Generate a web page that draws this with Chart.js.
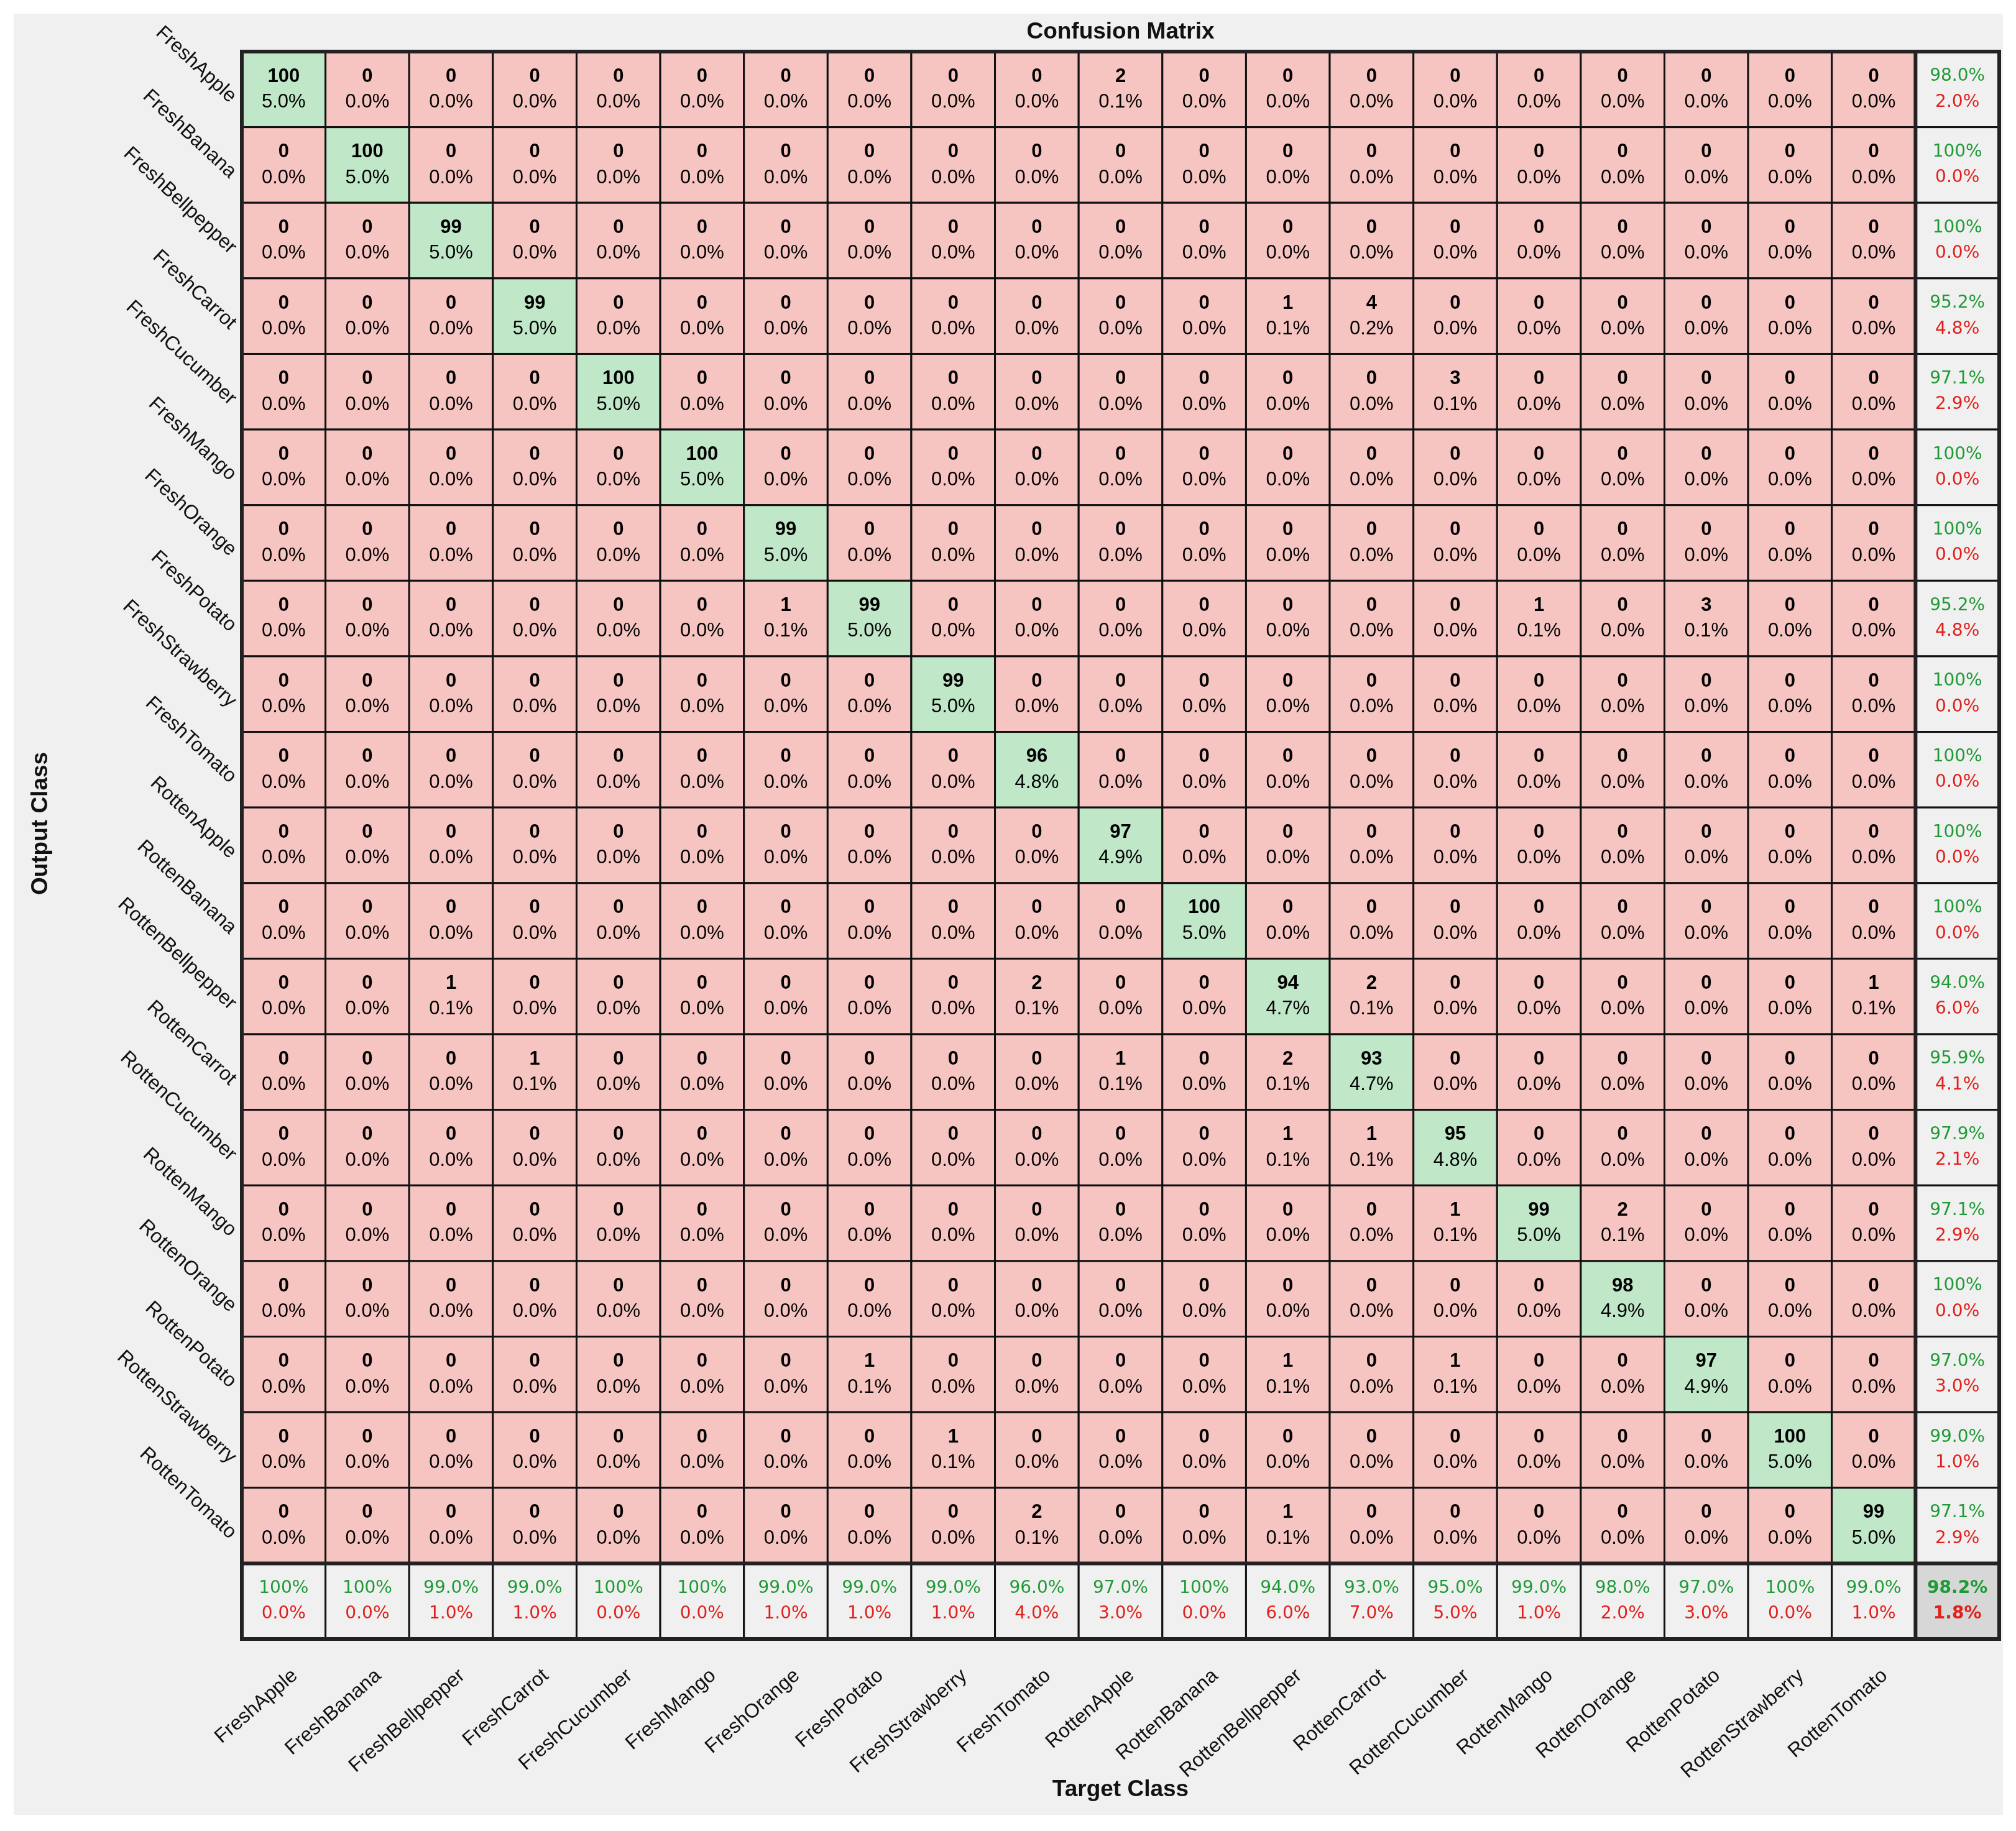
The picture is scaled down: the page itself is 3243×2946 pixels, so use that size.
<!DOCTYPE html>
<html>
<head>
<meta charset="utf-8">
<script src="https://cdn.jsdelivr.net/npm/chart.js@4/dist/chart.umd.min.js"></script>
<style>
  html, body { margin: 0; padding: 0; background: #fff; }
  #wrap { position: relative; width: 3243px; height: 2946px; }
</style>
</head>
<body>
<div id="wrap"><canvas id="cm"></canvas></div>
<script>
const classes = ['FreshApple','FreshBanana','FreshBellpepper','FreshCarrot','FreshCucumber','FreshMango',
  'FreshOrange','FreshPotato','FreshStrawberry','FreshTomato','RottenApple','RottenBanana',
  'RottenBellpepper','RottenCarrot','RottenCucumber','RottenMango','RottenOrange','RottenPotato',
  'RottenStrawberry','RottenTomato'];

// rows = output class, columns = target class
const counts = [
  [100,0,0,0,0,0,0,0,0,0,2,0,0,0,0,0,0,0,0,0],
  [0,100,0,0,0,0,0,0,0,0,0,0,0,0,0,0,0,0,0,0],
  [0,0,99,0,0,0,0,0,0,0,0,0,0,0,0,0,0,0,0,0],
  [0,0,0,99,0,0,0,0,0,0,0,0,1,4,0,0,0,0,0,0],
  [0,0,0,0,100,0,0,0,0,0,0,0,0,0,3,0,0,0,0,0],
  [0,0,0,0,0,100,0,0,0,0,0,0,0,0,0,0,0,0,0,0],
  [0,0,0,0,0,0,99,0,0,0,0,0,0,0,0,0,0,0,0,0],
  [0,0,0,0,0,0,1,99,0,0,0,0,0,0,0,1,0,3,0,0],
  [0,0,0,0,0,0,0,0,99,0,0,0,0,0,0,0,0,0,0,0],
  [0,0,0,0,0,0,0,0,0,96,0,0,0,0,0,0,0,0,0,0],
  [0,0,0,0,0,0,0,0,0,0,97,0,0,0,0,0,0,0,0,0],
  [0,0,0,0,0,0,0,0,0,0,0,100,0,0,0,0,0,0,0,0],
  [0,0,1,0,0,0,0,0,0,2,0,0,94,2,0,0,0,0,0,1],
  [0,0,0,1,0,0,0,0,0,0,1,0,2,93,0,0,0,0,0,0],
  [0,0,0,0,0,0,0,0,0,0,0,0,1,1,95,0,0,0,0,0],
  [0,0,0,0,0,0,0,0,0,0,0,0,0,0,1,99,2,0,0,0],
  [0,0,0,0,0,0,0,0,0,0,0,0,0,0,0,0,98,0,0,0],
  [0,0,0,0,0,0,0,1,0,0,0,0,1,0,1,0,0,97,0,0],
  [0,0,0,0,0,0,0,0,1,0,0,0,0,0,0,0,0,0,100,0],
  [0,0,0,0,0,0,0,0,0,2,0,0,1,0,0,0,0,0,0,99]
];

const n = classes.length;
const total = counts.flat().reduce((a, b) => a + b, 0);

function cellPct(num) {
  return (num / total * 100).toFixed(1) + '%';
}
function pct(num, den) {
  const v = Math.round(1000 * num / den) / 10;
  return v === 100 ? '100%' : v.toFixed(1) + '%';
}
function pctRest(num, den) {
  const v = 100 - Math.round(1000 * num / den) / 10;
  return v === 100 ? '100%' : v.toFixed(1) + '%';
}

// one point per cell, including the summary row/column (index n)
const cells = [];
for (let r = 0; r <= n; r++) {
  for (let c = 0; c <= n; c++) cells.push({ x: c, y: r });
}

const FONT = '"Liberation Sans", Arial, sans-serif';
const WIDE = '"DejaVu Sans", sans-serif';
const GREEN = '#bfe7c8', RED = '#f7c5c1', GREY = '#f0f0f0', CORNER = '#d7d7d7';
const TXT_GREEN = '#1f9a35', TXT_RED = '#e0201c';

const matrixPlugin = {
  id: 'matrix',
  beforeDraw(chart) {
    const ctx = chart.ctx;
    ctx.save();
    ctx.fillStyle = '#fff';
    ctx.fillRect(0, 0, chart.width, chart.height);
    ctx.fillStyle = '#f0f0f0';
    ctx.fillRect(22, 22, 3200, 2898);
    ctx.restore();
  },
  afterDatasetsDraw(chart) {
    const ctx = chart.ctx;
    const xs = chart.scales.x, ys = chart.scales.y;
    const cw = Math.abs(xs.getPixelForValue(1) - xs.getPixelForValue(0));
    const ch = Math.abs(ys.getPixelForValue(1) - ys.getPixelForValue(0));
    ctx.save();
    ctx.textAlign = 'center';
    ctx.textBaseline = 'middle';
    cells.forEach(p => {
      const cx = xs.getPixelForValue(p.x), cy = ys.getPixelForValue(p.y);
      const x0 = cx - cw / 2, y0 = cy - ch / 2;
      const r = p.y, c = p.x;
      let fill, l1, l2, f1, f2, c1 = '#000', c2 = '#000';
      if (r < n && c < n) {
        fill = r === c ? GREEN : RED;
        l1 = String(counts[r][c]);
        l2 = cellPct(counts[r][c]);
        f1 = 'bold 31px ' + FONT; f2 = '31px ' + FONT;
      } else {
        let good, den;
        if (r < n) { good = counts[r][r]; den = counts[r].reduce((a, b) => a + b, 0); }
        else if (c < n) { good = counts[c][c]; den = counts.reduce((a, row) => a + row[c], 0); }
        else { good = 0; for (let i = 0; i < n; i++) good += counts[i][i]; den = total; }
        const corner = (r === n && c === n);
        fill = corner ? CORNER : GREY;
        l1 = pct(good, den); l2 = pctRest(good, den);
        c1 = TXT_GREEN; c2 = TXT_RED;
        f1 = f2 = (corner ? 'bold ' : '') + '28px ' + WIDE;
      }
      ctx.fillStyle = fill;
      ctx.fillRect(x0, y0, cw, ch);
      ctx.strokeStyle = '#111';
      ctx.lineWidth = 3;
      ctx.strokeRect(x0, y0, cw, ch);
      ctx.fillStyle = c1;
      ctx.font = f1;
      ctx.fillText(l1, cx, cy - ch * 0.17);
      ctx.fillStyle = c2;
      ctx.font = f2;
      ctx.fillText(l2, cx, cy + ch * 0.17);
    });
    // heavier separators before the summary row/column
    const sx = xs.getPixelForValue(n - 0.5), sy = ys.getPixelForValue(n - 0.5);
    const a = chart.chartArea;
    ctx.strokeStyle = '#222';
    ctx.lineWidth = 6;
    ctx.beginPath();
    ctx.moveTo(sx, a.top); ctx.lineTo(sx, a.bottom);
    ctx.moveTo(a.left, sy); ctx.lineTo(a.right, sy);
    ctx.stroke();
    ctx.strokeRect(a.left, a.top, a.right - a.left, a.bottom - a.top);

    // class labels
    ctx.fillStyle = '#111';
    ctx.font = '32px ' + FONT;
    ctx.textAlign = 'right';
    ctx.textBaseline = 'middle';
    classes.forEach((name, i) => {
      const py = ys.getPixelForValue(i);
      ctx.save();
      ctx.translate(a.left - 14, py + 16);
      ctx.rotate(43 * Math.PI / 180);
      ctx.fillText(name, 0, 0);
      ctx.restore();
      const px = xs.getPixelForValue(i);
      ctx.save();
      ctx.translate(px + 18, a.bottom + 55);
      ctx.rotate(-41 * Math.PI / 180);
      ctx.fillText(name, 0, 0);
      ctx.restore();
    });

    // titles
    ctx.textAlign = 'center';
    ctx.font = 'bold 37px ' + FONT;
    ctx.fillText('Confusion Matrix', (a.left + a.right) / 2, 52);
    ctx.fillText('Target Class', (a.left + a.right) / 2, 2880);
    ctx.save();
    ctx.translate(66, (a.top + a.bottom) / 2 - 35);
    ctx.rotate(-Math.PI / 2);
    ctx.fillText('Output Class', 0, 0);
    ctx.restore();
    ctx.restore();
  }
};

new Chart(document.getElementById('cm'), {
  type: 'scatter',
  data: { datasets: [{ data: cells, pointRadius: 0, pointHoverRadius: 0 }] },
  options: {
    responsive: true,
    maintainAspectRatio: false,
    animation: false,
    devicePixelRatio: 1,
    layout: { padding: { left: 389, right: 27, top: 83, bottom: 309 } },
    plugins: { legend: { display: false }, tooltip: { enabled: false } },
    scales: {
      x: { type: 'linear', min: -0.5, max: n + 0.5, display: false },
      y: { type: 'linear', min: -0.5, max: n + 0.5, reverse: true, display: false }
    }
  },
  plugins: [matrixPlugin]
});
</script>
</body>
</html>
